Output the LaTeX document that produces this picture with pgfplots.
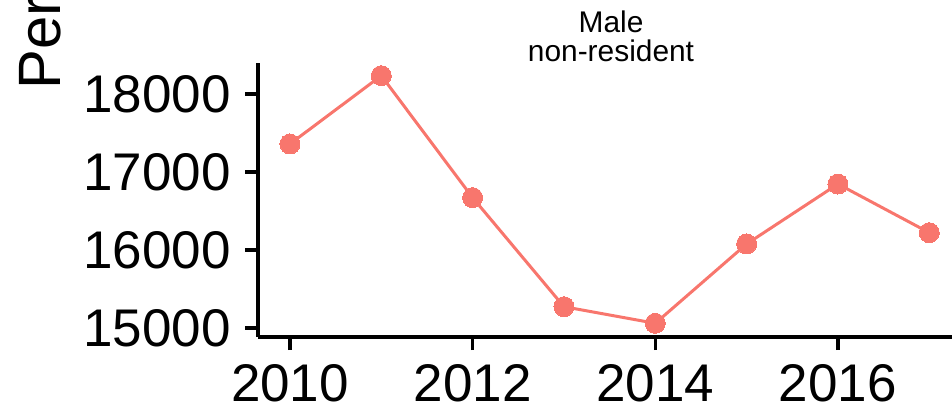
\documentclass[border=0pt]{standalone}
\usepackage{fontspec}
\setmainfont{Liberation Sans}
\usepackage{pgfplots}
\pgfplotsset{compat=1.18}
\definecolor{ggred}{HTML}{F8766D}
\begin{document}
\begin{tikzpicture}
\useasboundingbox (0,0) rectangle (952bp,410bp);
\clip (0,0) rectangle (952bp,410bp);
\begin{axis}[
  at={(258bp,73bp)}, anchor=south west,
  scale only axis, width=694bp, height=274bp,
  xmin=2009.650, xmax=2017.249,
  ymin=14884.6, ymax=18397.4,
  axis lines=left,
  axis line style={line width=3.5bp, -},
  xtick={2010,2012,2014,2016},
  ytick={15000,16000,17000,18000},
  scaled ticks=false,
  tick align=outside,
  major tick length=13bp,
  tick style={line width=3.5bp, black},
  /pgf/number format/assume math mode=true,
  /pgf/number format/1000 sep={},
  xticklabel style={font=\fontsize{53.2}{60}\selectfont, inner sep=0pt, anchor=north, yshift=-14bp},
  yticklabel style={font=\fontsize{53.2}{60}\selectfont, inner sep=0pt, anchor=east, xshift=-14bp},
  clip=false,
]
\addplot[color=ggred, line width=3bp, mark=*, mark size=10bp, mark options={solid, fill=ggred, draw=ggred, line width=0pt}]
coordinates {
(2010,17359) (2011,18235) (2012,16671) (2013,15273) (2014,15060) (2015,16077) (2016,16846) (2017,16222)
};
\end{axis}
\node[anchor=base, inner sep=0pt, font=\fontsize{30}{34}\selectfont] at (611bp,377bp) {Male};
\node[anchor=base, inner sep=0pt, font=\fontsize{30}{34}\selectfont] at (611bp,348bp) {non-resident};
\node[rotate=90, anchor=base west, inner sep=0pt, font=\fontsize{60}{70}\selectfont] at (60bp,320bp) {Persons};
\end{tikzpicture}
\end{document}
